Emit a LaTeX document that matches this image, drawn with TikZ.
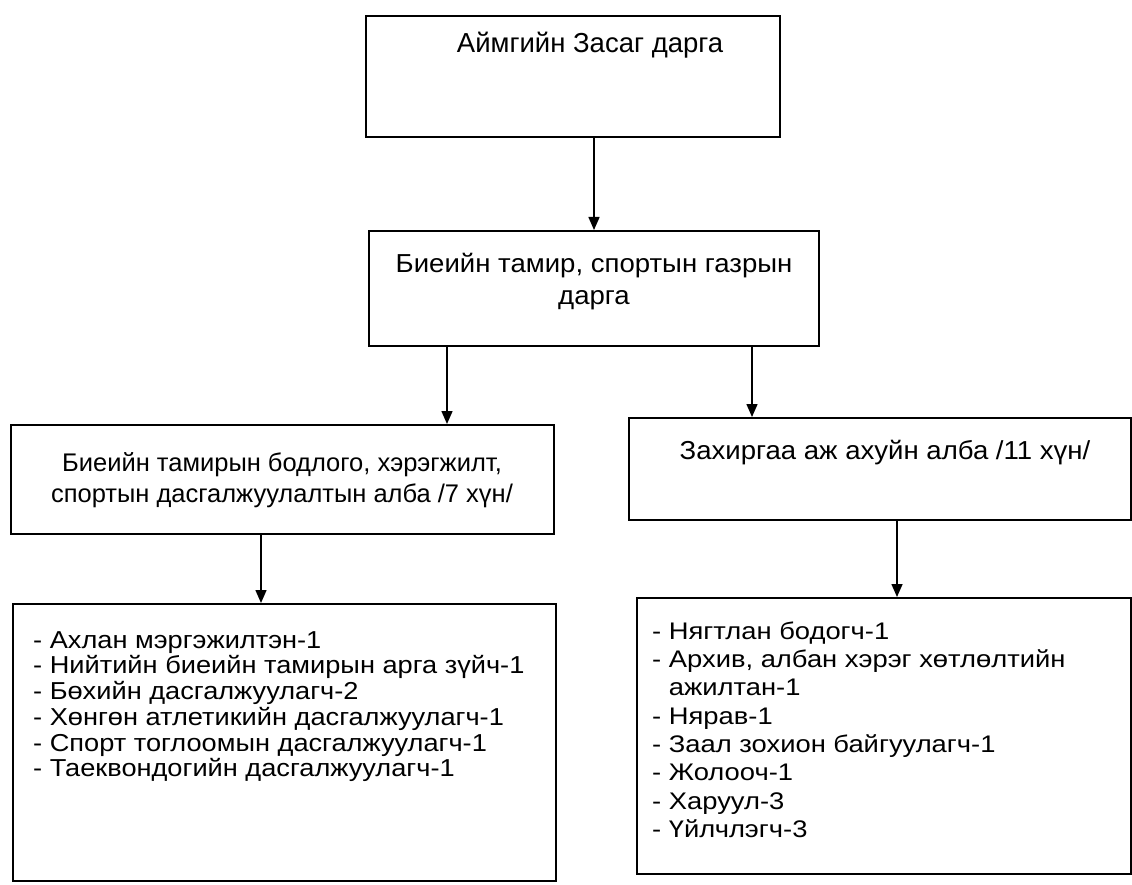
\documentclass[tikz,border=0pt]{standalone}
\usepackage{fontspec}
\setmainfont{Liberation Sans}
\newfontfamily\fsA[FakeStretch=1.06]{Liberation Sans}
\newfontfamily\fsB[FakeStretch=1.11]{Liberation Sans}
\newfontfamily\fsC[FakeStretch=1.14]{Liberation Sans}
\usetikzlibrary{arrows.meta}
\begin{document}
\begin{tikzpicture}[x=1pt,y=-1pt,
  box/.style={draw, line width=1.6pt, inner sep=0pt, anchor=north west},
  arr/.style={line width=1.5pt, -{Triangle[length=13pt,width=11pt]}},
  txt/.style={inner sep=0pt, align=center},
  lst/.style={inner sep=0pt, align=left, anchor=north west}]
\useasboundingbox (0,0) rectangle (1132,885);
% boxes
\node[box, minimum width=414pt, minimum height=121pt] (B1) at (365,15) {};
\node[box, minimum width=450pt, minimum height=115pt] (B2) at (368,230) {};
\node[box, minimum width=543pt, minimum height=109pt] (B3) at (10,424) {};
\node[box, minimum width=502pt, minimum height=102pt] (B4) at (628,417) {};
\node[box, minimum width=543pt, minimum height=277pt] (B5) at (12,603) {};
\node[box, minimum width=494pt, minimum height=276pt] (B6) at (636,597) {};
% texts
\node[txt, anchor=base, font={\fontsize{27.5}{32}\selectfont}] (T1) at (590,53) {Аймгийн Засаг дарга};
\node[txt, anchor=north, font={\fsA\fontsize{26}{32}\selectfont}] (T2) at (594,252) {\rule{0pt}{20pt}Биеийн тамир, спортын газрын\\дарга};
\node[txt, anchor=north, font={\fontsize{25.5}{31}\selectfont}] (T3) at (282,451) {\rule{0pt}{20pt}Биеийн тамирын бодлого, хэрэгжилт,\\спортын дасгалжуулалтын алба /7 хүн/};
\node[txt, anchor=base, font={\fsA\fontsize{26}{31}\selectfont}] (T4) at (885,459) {Захиргаа аж ахуйн алба /11 хүн/};
\node[lst, font={\fsB\fontsize{24.5}{25.7}\selectfont}] (L1) at (33,628) {\rule{0pt}{20pt}- Ахлан мэргэжилтэн-1\\
- Нийтийн биеийн тамирын арга зүйч-1\\
- Бөхийн дасгалжуулагч-2\\
- Хөнгөн атлетикийн дасгалжуулагч-1\\
- Спорт тоглоомын дасгалжуулагч-1\\
- Таеквондогийн дасгалжуулагч-1};
\node[lst, font={\fsC\fontsize{24}{28.3}\selectfont}] (L2) at (652,619) {\rule{0pt}{20pt}- Нягтлан бодогч-1\\
- Архив, албан хэрэг хөтлөлтийн\\
\hphantom{- }ажилтан-1\\
- Нярав-1\\
- Заал зохион байгуулагч-1\\
- Жолооч-1\\
- Харуул-3\\
- Үйлчлэгч-3};
% connectors
\draw[arr] (594,0 |- B1.south) -- (594,0 |- B2.north);
\draw[arr] (447,0 |- B2.south) -- (447,0 |- B3.north);
\draw[arr] (752,0 |- B2.south) -- (752,0 |- B4.north);
\draw[arr] (261,0 |- B3.south) -- (261,0 |- B5.north);
\draw[arr] (897,0 |- B4.south) -- (897,0 |- B6.north);
\end{tikzpicture}
\end{document}
